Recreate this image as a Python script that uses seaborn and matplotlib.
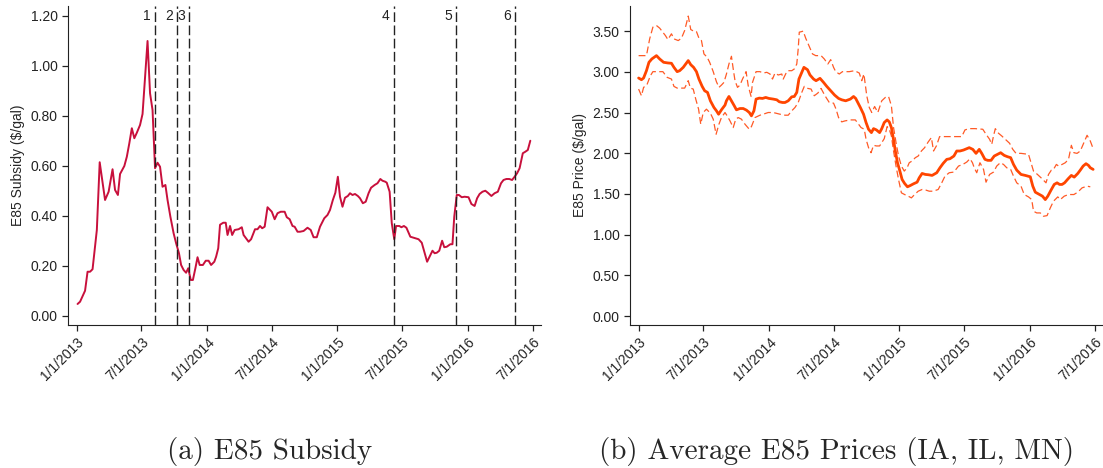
import pandas as pd
import matplotlib.pyplot as plt
import seaborn as sns

# --- data (days counted from 1/1/2013) ---
sub_days = [2, 9, 23, 30, 37, 44, 50, 56, 64, 79, 89, 100, 107, 115, 121, 133, 140, 147, 154, 161,
            168, 177, 184, 190, 198, 205, 212, 219, 226, 233, 240, 248, 254, 262, 271, 278, 286, 292,
            299, 306, 312, 319, 325, 332, 338, 344, 353, 361, 369, 376, 385, 390, 396, 401, 410, 417,
            422, 429, 435, 442, 453, 462, 467, 481, 488, 499, 506, 513, 519, 526, 534, 546, 554, 562,
            571, 582, 588, 596, 604, 610, 618, 625, 635, 646, 655, 663, 672, 681, 693, 702, 709, 717,
            724, 731, 737, 744, 751, 759, 765, 772, 779, 787, 793, 801, 809, 817, 824, 834, 842, 850,
            856, 864, 868, 876, 882, 889, 894, 903, 909, 916, 923, 934, 948, 957, 966, 973, 981, 990,
            996, 1002, 1008, 1015, 1023, 1029, 1036, 1046, 1052, 1057, 1064, 1070, 1078, 1086, 1097,
            1105, 1114, 1121, 1128, 1136, 1144, 1151, 1161, 1170, 1179, 1188, 1195, 1203, 1211, 1219,
            1226, 1233, 1240, 1249, 1256, 1263, 1270]
sub_vals = [0.048, 0.057, 0.101, 0.177, 0.177, 0.187, 0.264, 0.344, 0.615, 0.464, 0.497, 0.587,
            0.504, 0.484, 0.568, 0.600, 0.637, 0.691, 0.751, 0.711, 0.733, 0.764, 0.808, 0.931, 1.100,
            0.891, 0.824, 0.591, 0.613, 0.597, 0.517, 0.524, 0.464, 0.397, 0.331, 0.291, 0.251, 0.204,
            0.184, 0.173, 0.191, 0.144, 0.144, 0.191, 0.235, 0.204, 0.204, 0.221, 0.221, 0.204, 0.217,
            0.237, 0.271, 0.365, 0.373, 0.373, 0.324, 0.360, 0.324, 0.344, 0.347, 0.355, 0.324, 0.297,
            0.307, 0.347, 0.347, 0.360, 0.351, 0.357, 0.435, 0.417, 0.387, 0.411, 0.417, 0.417, 0.395,
            0.387, 0.360, 0.357, 0.337, 0.337, 0.340, 0.353, 0.344, 0.315, 0.315, 0.357, 0.391, 0.404,
            0.424, 0.464, 0.493, 0.557, 0.477, 0.437, 0.473, 0.480, 0.491, 0.484, 0.488, 0.480, 0.471,
            0.451, 0.457, 0.491, 0.513, 0.524, 0.531, 0.548, 0.541, 0.537, 0.533, 0.497, 0.371, 0.307,
            0.360, 0.360, 0.355, 0.360, 0.353, 0.317, 0.311, 0.307, 0.293, 0.257, 0.217, 0.244, 0.261,
            0.251, 0.253, 0.261, 0.301, 0.275, 0.277, 0.287, 0.287, 0.397, 0.484, 0.484, 0.475, 0.477,
            0.475, 0.448, 0.440, 0.471, 0.488, 0.497, 0.501, 0.493, 0.480, 0.491, 0.497, 0.531, 0.544,
            0.548, 0.548, 0.544, 0.557, 0.571, 0.591, 0.651, 0.657, 0.664, 0.701]

event_dates = ['2013-08-08', '2013-10-09', '2013-11-12', '2015-06-08', '2015-11-30', '2016-05-12']
event_labels = ['1', '2', '3', '4', '5', '6']

mean_days = [0, 8, 14, 22, 29, 37, 50, 59, 70, 82, 92, 99, 108, 115, 125, 132, 139, 146, 154, 162,
             169, 178, 185, 193, 201, 211, 218, 224, 232, 242, 246, 253, 260, 268, 274, 284, 293, 302,
             310, 316, 323, 329, 338, 347, 356, 365, 377, 387, 394, 403, 410, 419, 429, 436, 443, 449,
             457, 463, 473, 480, 490, 497, 508, 518, 527, 538, 549, 560, 569, 580, 593, 602, 608, 614,
             621, 630, 637, 644, 652, 658, 666, 675, 681, 688, 696, 702, 708, 713, 719, 725, 731, 738,
             745, 753, 761, 770, 780, 786, 794, 803, 812, 822, 835, 844, 853, 863, 872, 883, 891, 900,
             910, 919, 926, 936, 945, 954, 961, 970, 978, 987, 996, 1005, 1014, 1024, 1033, 1042, 1050,
             1059, 1071, 1083, 1097, 1104, 1111, 1123, 1131, 1139, 1146, 1155, 1164, 1172, 1179, 1186,
             1193, 1203, 1212, 1220, 1230, 1237, 1245, 1253, 1260, 1265, 1273]
mean_vals = [2.925, 2.904, 2.925, 3.015, 3.118, 3.159, 3.200, 3.159, 3.118, 3.110, 3.106, 3.056,
             3.003, 3.015, 3.056, 3.097, 3.139, 3.089, 3.056, 3.003, 2.912, 2.822, 2.768, 2.748, 2.645,
             2.563, 2.522, 2.480, 2.534, 2.592, 2.645, 2.698, 2.645, 2.583, 2.534, 2.550, 2.550, 2.530,
             2.501, 2.460, 2.522, 2.666, 2.678, 2.674, 2.686, 2.674, 2.666, 2.657, 2.633, 2.624, 2.624,
             2.645, 2.694, 2.698, 2.748, 2.912, 2.995, 3.056, 3.027, 2.962, 2.912, 2.892, 2.921, 2.871,
             2.822, 2.768, 2.715, 2.674, 2.657, 2.645, 2.666, 2.698, 2.674, 2.624, 2.563, 2.480, 2.378,
             2.295, 2.254, 2.303, 2.287, 2.254, 2.303, 2.378, 2.410, 2.386, 2.316, 2.193, 2.028, 1.884,
             1.793, 1.678, 1.629, 1.588, 1.604, 1.625, 1.645, 1.699, 1.752, 1.740, 1.736, 1.728, 1.761,
             1.822, 1.876, 1.925, 1.933, 1.966, 2.028, 2.028, 2.040, 2.057, 2.069, 2.048, 1.999, 2.048,
             1.999, 1.925, 1.913, 1.913, 1.966, 1.987, 2.007, 1.974, 1.958, 1.946, 1.863, 1.793, 1.740,
             1.728, 1.711, 1.596, 1.522, 1.493, 1.473, 1.431, 1.473, 1.547, 1.617, 1.637, 1.617, 1.617,
             1.637, 1.687, 1.728, 1.707, 1.752, 1.793, 1.843, 1.872, 1.851, 1.822, 1.802]

upper_days = [0, 22, 31, 40, 50, 59, 68, 75, 82, 92, 99, 111, 120, 129, 139, 146, 154, 162, 169, 176,
              183, 192, 199, 209, 218, 225, 232, 239, 246, 253, 260, 265, 270, 277, 284, 291, 301, 307,
              315, 319, 329, 340, 349, 359, 368, 375, 382, 391, 401, 405, 415, 419, 429, 436, 443, 447,
              450, 461, 468, 477, 487, 496, 511, 520, 530, 538, 546, 552, 562, 571, 590, 605, 618, 625,
              631, 639, 646, 653, 661, 670, 681, 691, 700, 708, 714, 721, 728, 736, 744, 752, 758, 766,
              775, 783, 792, 801, 811, 820, 826, 834, 843, 858, 881, 905, 914, 926, 942, 964, 973, 983,
              989, 994, 999, 1008, 1017, 1027, 1039, 1048, 1057, 1071, 1092, 1099, 1106, 1117, 1130,
              1141, 1148, 1156, 1162, 1170, 1176, 1186, 1195, 1204, 1212, 1219, 1228, 1237, 1247, 1256,
              1265, 1272]
upper_vals = [3.200, 3.200, 3.406, 3.550, 3.570, 3.538, 3.488, 3.447, 3.398, 3.468, 3.406, 3.385,
              3.414, 3.509, 3.686, 3.521, 3.501, 3.496, 3.414, 3.385, 3.221, 3.180, 3.118, 3.003, 2.879,
              2.810, 2.838, 2.871, 2.974, 3.097, 3.192, 3.036, 2.892, 2.810, 2.838, 2.912, 3.003, 2.830,
              2.698, 2.871, 3.003, 3.003, 2.986, 2.995, 2.974, 2.912, 2.986, 2.962, 2.974, 2.912, 3.003,
              3.015, 3.015, 3.036, 3.097, 3.283, 3.488, 3.501, 3.414, 3.324, 3.221, 3.200, 3.200, 3.159,
              3.097, 3.151, 3.056, 3.003, 2.974, 3.003, 3.003, 3.015, 2.986, 2.892, 2.974, 2.707, 2.563,
              2.501, 2.575, 2.501, 2.645, 2.686, 2.698, 2.583, 2.316, 2.131, 1.966, 1.843, 1.781, 1.822,
              1.884, 1.905, 1.946, 1.966, 2.028, 2.069, 2.139, 2.193, 2.028, 2.090, 2.205, 2.205, 2.205,
              2.205, 2.287, 2.303, 2.303, 2.295, 2.234, 2.172, 2.110, 2.213, 2.303, 2.246, 2.213, 2.172,
              2.123, 2.048, 1.999, 1.999, 1.987, 1.884, 1.781, 1.740, 1.687, 1.637, 1.740, 1.793, 1.802,
              1.863, 1.843, 1.863, 1.884, 1.925, 2.098, 2.007, 1.999, 2.028, 2.131, 2.221, 2.151, 2.069]

lower_days = [0, 8, 14, 23, 33, 40, 68, 80, 92, 99, 108, 129, 139, 145, 153, 160, 168, 174, 181, 190,
              201, 209, 217, 225, 232, 242, 248, 256, 265, 272, 279, 288, 298, 310, 316, 326, 340, 349,
              363, 377, 396, 410, 419, 429, 438, 447, 457, 464, 474, 483, 492, 502, 511, 522, 534, 546,
              553, 560, 569, 578, 593, 607, 616, 623, 632, 637, 644, 651, 658, 666, 675, 681, 688, 696,
              702, 708, 714, 721, 728, 736, 745, 755, 764, 773, 783, 794, 805, 814, 825, 839, 849, 858,
              870, 883, 896, 908, 919, 928, 935, 940, 947, 956, 966, 973, 983, 994, 1003, 1013, 1022,
              1031, 1042, 1050, 1059, 1071, 1080, 1092, 1101, 1106, 1115, 1125, 1134, 1144, 1153, 1162,
              1174, 1181, 1192, 1204, 1219, 1230, 1242, 1256, 1265]
lower_vals = [2.789, 2.707, 2.810, 2.838, 2.953, 3.003, 3.003, 2.933, 2.912, 2.822, 2.801, 2.801,
              2.892, 2.801, 2.789, 2.666, 2.542, 2.357, 2.501, 2.542, 2.493, 2.419, 2.234, 2.357, 2.439,
              2.501, 2.460, 2.398, 2.316, 2.419, 2.439, 2.419, 2.357, 2.295, 2.328, 2.439, 2.468, 2.480,
              2.501, 2.501, 2.480, 2.468, 2.468, 2.522, 2.563, 2.624, 2.748, 2.822, 2.797, 2.789, 2.707,
              2.740, 2.797, 2.707, 2.624, 2.616, 2.542, 2.439, 2.386, 2.398, 2.410, 2.410, 2.357, 2.316,
              2.295, 2.172, 2.069, 2.007, 2.098, 2.090, 2.090, 2.131, 2.180, 2.328, 2.295, 2.213, 2.028,
              1.843, 1.678, 1.514, 1.493, 1.473, 1.452, 1.493, 1.534, 1.555, 1.547, 1.534, 1.534, 1.555,
              1.637, 1.719, 1.761, 1.769, 1.843, 1.863, 1.892, 1.933, 1.884, 1.822, 1.761, 1.884, 1.802,
              1.645, 1.740, 1.769, 1.843, 1.884, 1.863, 1.822, 1.802, 1.719, 1.637, 1.596, 1.493, 1.464,
              1.431, 1.288, 1.267, 1.267, 1.226, 1.234, 1.329, 1.411, 1.464, 1.431, 1.473, 1.493, 1.493,
              1.522, 1.575, 1.596, 1.588]

tick_dates = ['2013-01-01', '2013-07-01', '2014-01-01', '2014-07-01',
              '2015-01-01', '2015-07-01', '2016-01-01', '2016-07-01']
tick_labels = ['1/1/2013', '7/1/2013', '1/1/2014', '7/1/2014',
               '1/1/2015', '7/1/2015', '1/1/2016', '7/1/2016']

# --- style ---
sns.set_style('ticks')
plt.rcParams['font.family'] = ['Liberation Sans', 'DejaVu Sans']
plt.rcParams['font.size'] = 10
plt.rcParams['axes.edgecolor'] = '#222222'
plt.rcParams['xtick.color'] = '#222222'
plt.rcParams['ytick.color'] = '#222222'

base = pd.Timestamp('2013-01-01')


def to_dates(days):
    return pd.Series(base + pd.to_timedelta(days, unit='D'))


fig = plt.figure(figsize=(11.03, 4.68), dpi=100)
ax1 = fig.add_axes([0.0619, 0.3056, 0.4286, 0.6816])
ax2 = fig.add_axes([0.5712, 0.3056, 0.4286, 0.6816])

# --- (a) subsidy ---
sns.lineplot(x=to_dates(sub_days), y=sub_vals, ax=ax1, color='#C8103C', linewidth=1.4)
for d, lab in zip(event_dates, event_labels):
    ax1.axvline(pd.Timestamp(d), color='#222222', linewidth=1.0, linestyle=(0, (7, 2.5)))
    ax1.annotate(lab, xy=(pd.Timestamp(d), 1.2), xytext=(-3, 0), textcoords='offset points',
                 ha='right', va='center', fontsize=10, color='#222222')
ax1.set_ylim(-0.036, 1.24)
ax1.set_yticks([0, 0.2, 0.4, 0.6, 0.8, 1.0, 1.2])
ax1.set_ylabel('E85 Subsidy ($/gal)')

# --- (b) prices ---
sns.lineplot(x=to_dates(upper_days), y=upper_vals, ax=ax2, color='#FF5A26', linewidth=0.9,
             linestyle=(0, (5.5, 2.7)))
sns.lineplot(x=to_dates(lower_days), y=lower_vals, ax=ax2, color='#FF5A26', linewidth=0.9,
             linestyle=(0, (5.5, 2.7)))
sns.lineplot(x=to_dates(mean_days), y=mean_vals, ax=ax2, color='#FF4500', linewidth=2.0)
ax2.set_ylim(-0.11, 3.81)
ax2.set_yticks([0, 0.5, 1.0, 1.5, 2.0, 2.5, 3.0, 3.5])
ax2.set_ylabel('E85 Price ($/gal)')

for ax in (ax1, ax2):
    ax.set_xlim(pd.Timestamp('2012-12-08'), pd.Timestamp('2016-07-24'))
    ax.set_xticks(pd.to_datetime(tick_dates))
    ax.set_xticklabels(tick_labels, rotation=45, ha='right', rotation_mode='anchor')
    ax.yaxis.set_major_formatter(plt.FormatStrFormatter('%.2f'))
    ax.tick_params(direction='out', length=4, width=0.9)
    ax.set_xlabel('')
    sns.despine(ax=ax)

fig.text(270 / 1103, 1 - 451 / 468, '(a) E85 Subsidy', family='cmr10', fontsize=21,
         ha='center', va='center')
fig.text(837 / 1103, 1 - 451 / 468, '(b) Average E85 Prices (IA, IL, MN)', family='cmr10',
         fontsize=21, ha='center', va='center')

fig.savefig('out.png', dpi=100)
